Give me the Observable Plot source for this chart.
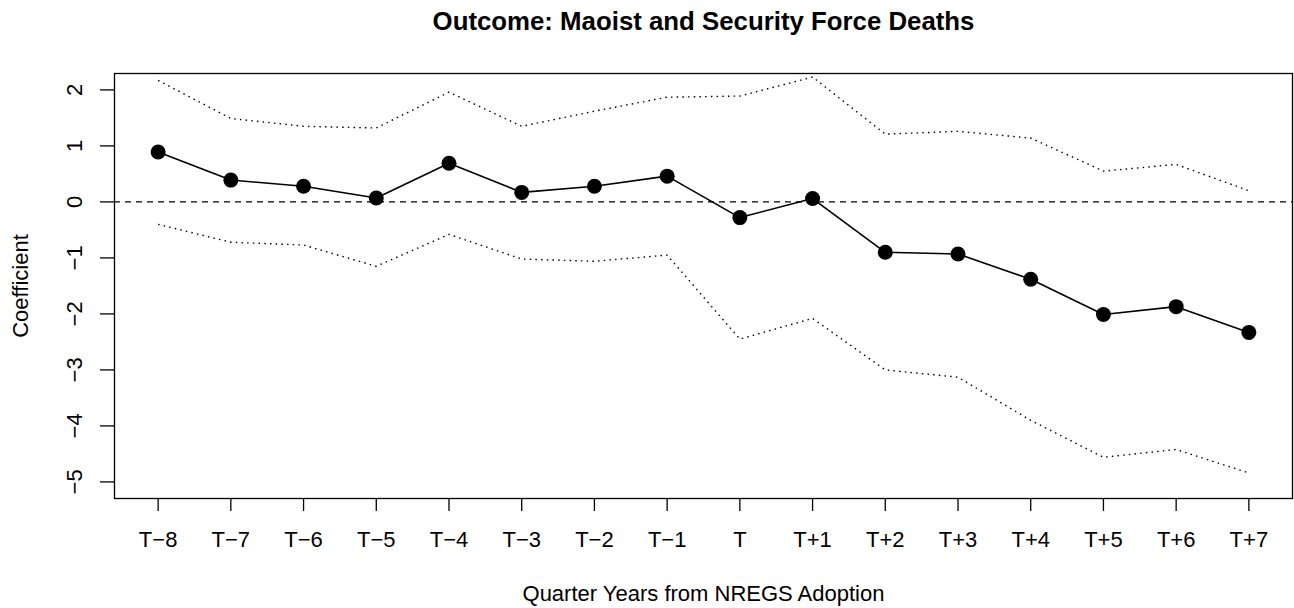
<!DOCTYPE html>
<html><head><meta charset="utf-8">
<script src="https://cdn.jsdelivr.net/npm/d3@7"></script>
<script src="https://cdn.jsdelivr.net/npm/@observablehq/plot@0.6"></script>
<style>body{margin:0;background:#fff}</style>
</head><body><div id="chart"></div>
<script>
const periods = ["T−8","T−7","T−6","T−5","T−4","T−3","T−2","T−1","T","T+1","T+2","T+3","T+4","T+5","T+6","T+7"];
const coef  = [0.89, 0.39, 0.28, 0.07, 0.69, 0.17, 0.28, 0.46, -0.28, 0.06, -0.90, -0.93, -1.38, -2.01, -1.87, -2.33];
const upper = [2.17, 1.49, 1.35, 1.32, 1.96, 1.35, 1.62, 1.87, 1.89, 2.23, 1.21, 1.26, 1.14, 0.55, 0.67, 0.20];
const lower = [-0.40, -0.72, -0.77, -1.15, -0.58, -1.02, -1.06, -0.95, -2.45, -2.08, -3.00, -3.13, -3.90, -4.56, -4.42, -4.84];
const yTicks = [-5, -4, -3, -2, -1, 0, 1, 2];
const title = "Outcome: Maoist and Security Force Deaths";
const xTitle = "Quarter Years from NREGS Adoption";
const yTitle = "Coefficient";

const data = periods.map((p, i) => ({i, p, coef: coef[i], upper: upper[i], lower: lower[i]}));
const fmt = d => d < 0 ? "−" + Math.abs(d) : String(d);
const FS = 22;

const chart = Plot.plot({
  width: 1294, height: 608,
  marginTop: 73, marginBottom: 110, marginLeft: 114, marginRight: 2,
  style: {fontFamily: "'Liberation Sans', Arial, Helvetica, sans-serif", background: "white", color: "black"},
  x: {type: "linear", domain: [-0.6, 15.6], axis: null},
  y: {domain: [-5.296, 2.293], axis: null},
  marks: [
    Plot.ruleY([0], {stroke: "black", strokeWidth: 1.3, strokeDasharray: "6,5"}),
    Plot.lineY(data, {x: "i", y: "upper", stroke: "black", strokeWidth: 1.4, strokeDasharray: "1.5,4.2", strokeLinecap: "butt"}),
    Plot.lineY(data, {x: "i", y: "lower", stroke: "black", strokeWidth: 1.4, strokeDasharray: "1.5,4.2", strokeLinecap: "butt"}),
    Plot.lineY(data, {x: "i", y: "coef", stroke: "black", strokeWidth: 1.6}),
    Plot.dot(data, {x: "i", y: "coef", r: 7.5, fill: "black", stroke: "none"}),
    Plot.frame({stroke: "black", strokeWidth: 1.3}),
    Plot.axisX({ticks: d3.range(periods.length), tickFormat: i => periods[i], tickSize: 13, tickPadding: 20, label: null, fontSize: FS, stroke: "black", strokeWidth: 1.3, fill: "black"}),
    Plot.axisY({ticks: yTicks, tickSize: 14, label: null, stroke: "black", strokeWidth: 1.3, fill: "none"}),
    Plot.text(yTicks, {y: d => d, text: fmt, frameAnchor: "left", rotate: -90, dx: -40, textAnchor: "middle", lineAnchor: "middle", fontSize: FS, fill: "black"}),
    Plot.text([title], {frameAnchor: "top", dy: -61.8, fontWeight: "bold", fontSize: 25.8, fill: "black"}),
    Plot.text([xTitle], {frameAnchor: "bottom", lineAnchor: "middle", dy: 95, fontSize: FS, fill: "black"}),
    Plot.text([yTitle], {frameAnchor: "left", rotate: -90, dx: -94, textAnchor: "middle", lineAnchor: "middle", fontSize: FS, fill: "black"})
  ]
});
document.getElementById("chart").appendChild(chart);
</script>
</body></html>
